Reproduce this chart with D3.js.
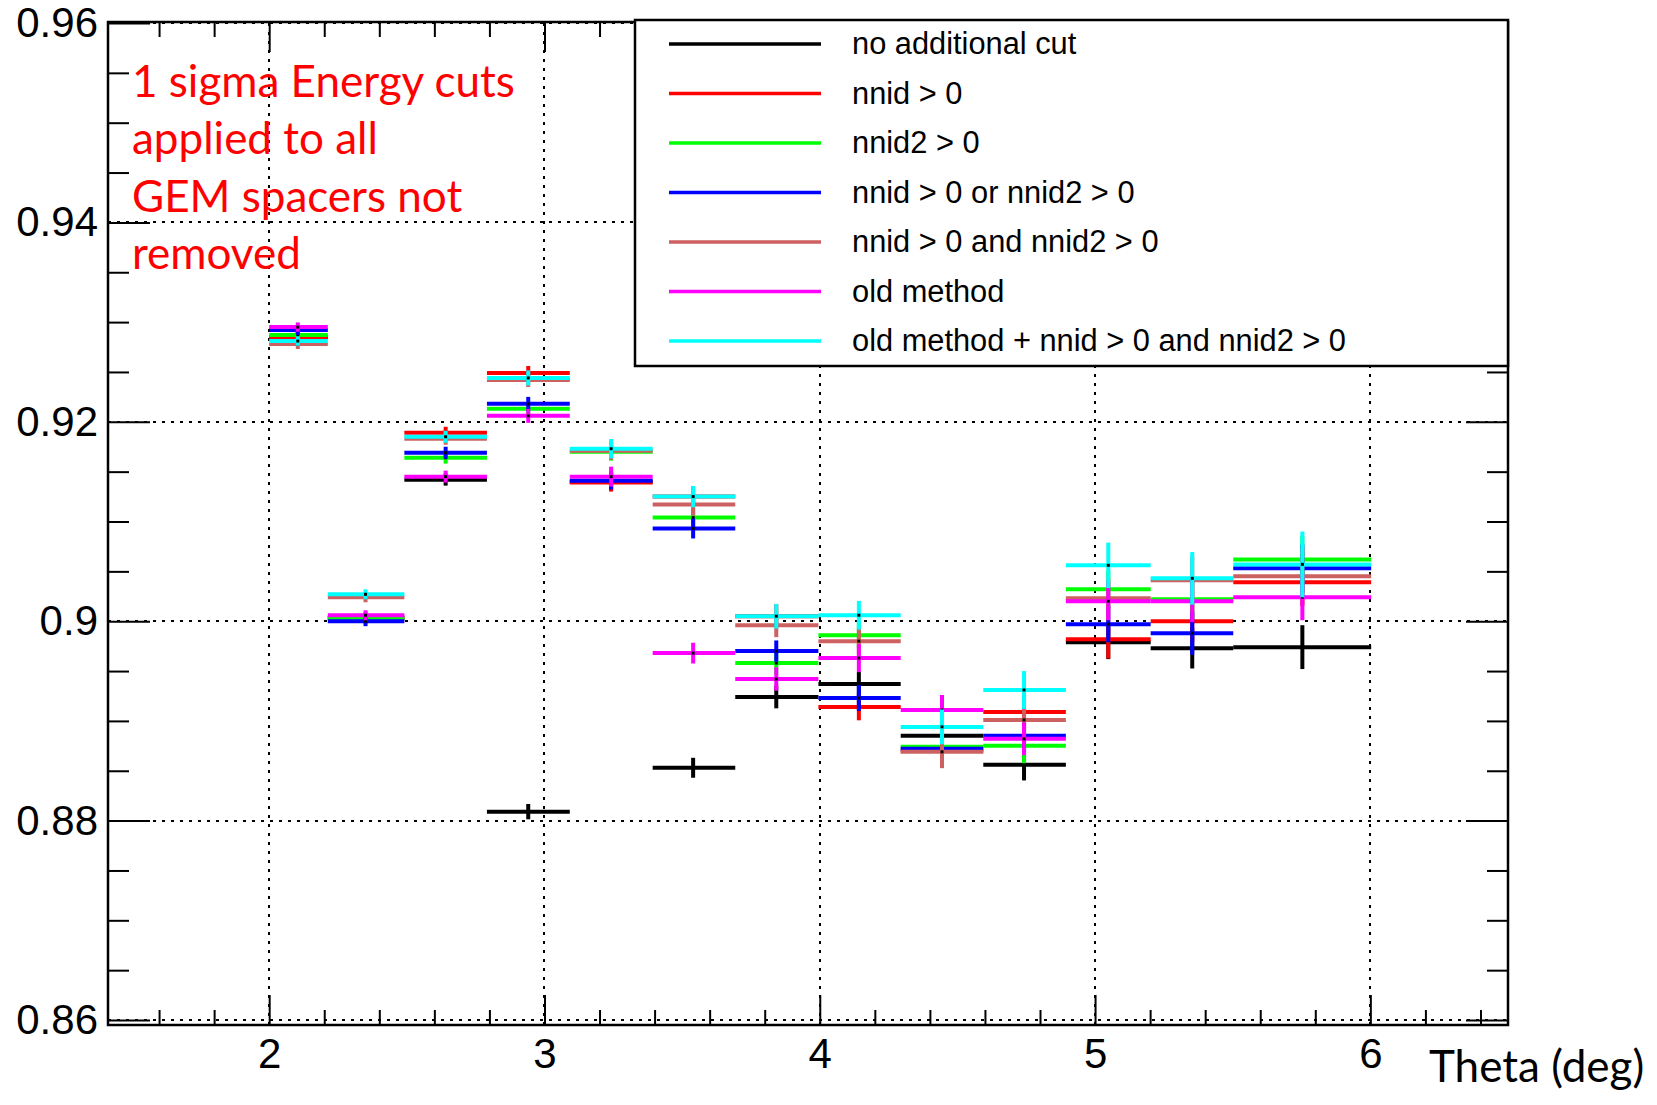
<!DOCTYPE html>
<html>
  <head>
    <meta charset="utf-8">
    <script type="text/javascript" src="https://cdn.jsdelivr.net/npm/d3@7"></script>
    <style type="text/css">
      body {
        margin: 0;
        background: #ffffff;
      }
    </style>
  </head>
  <body>
    <script type="text/javascript">

      // theta bins (deg): point position and bin edges
      var binCenter = [2.104, 2.35, 2.641, 2.941, 3.242, 3.54, 3.842, 4.142, 4.444, 4.742, 5.048, 5.353, 5.753];
      var binLow = [2.0, 2.213, 2.491, 2.791, 3.092, 3.393, 3.693, 3.995, 4.294, 4.594, 4.894, 5.202, 5.502];
      var binHigh = [2.213, 2.491, 2.791, 3.092, 3.393, 3.693, 3.995, 4.294, 4.594, 4.894, 5.202, 5.502, 6.003];

      // efficiency per bin for every cut
      var effNoCut = [0.9285, 0.9003, 0.9142, 0.8809, 0.9140, 0.8853, 0.8924, 0.8937, 0.8885, 0.8856, 0.8979, 0.8973, 0.8974];
      var effNnid = [0.9285, 0.9004, 0.9189, 0.9249, 0.9139, 0.9125, 0.9005, 0.8914, 0.8870, 0.8909, 0.8982, 0.9000, 0.9039];
      var effNnid2 = [0.9287, 0.9003, 0.9164, 0.9213, 0.9170, 0.9104, 0.8958, 0.8986, 0.8874, 0.8875, 0.9032, 0.9022, 0.9062];
      var effOr = [0.9292, 0.9000, 0.9169, 0.9218, 0.9141, 0.9093, 0.8970, 0.8923, 0.8872, 0.8885, 0.8997, 0.8988, 0.9053];
      var effAnd = [0.9278, 0.9024, 0.9183, 0.9242, 0.9171, 0.9117, 0.8996, 0.8980, 0.8869, 0.8901, 0.9023, 0.9041, 0.9045];
      var effOld = [0.9295, 0.9006, 0.9145, 0.9206, 0.9145, 0.8968, 0.8942, 0.8963, 0.8911, 0.8882, 0.9020, 0.9020, 0.9024];
      var effOldAnd = [0.9281, 0.9027, 0.9185, 0.9244, 0.9173, 0.9125, 0.9005, 0.9006, 0.8894, 0.8931, 0.9056, 0.9043, 0.9057];

      // statistical errors on the efficiency
      var errNoCut = [0.0005, 0.0005, 0.0006, 0.00077, 0.0009, 0.001, 0.00114, 0.0012, 0.0014, 0.00157, 0.0017, 0.00204, 0.0022];
      var errNnid = [0.0005, 0.0005, 0.0006, 0.0007, 0.0009, 0.001, 0.0012, 0.00134, 0.0015, 0.0016, 0.00194, 0.0021, 0.0024];
      var errNnid2 = [0.00047, 0.0005, 0.0006, 0.0007, 0.0009, 0.001, 0.0011, 0.0013, 0.0015, 0.00174, 0.0019, 0.0021, 0.0024];
      var errOr = [0.00047, 0.0005, 0.0006, 0.0007, 0.0009, 0.001, 0.00107, 0.0013, 0.0015, 0.0016, 0.0018, 0.00217, 0.0024];
      var errAnd = [0.0005, 0.0005, 0.0006, 0.0007, 0.0009, 0.0011, 0.0012, 0.0014, 0.00164, 0.0017, 0.0021, 0.0024, 0.0028];
      var errOld = [0.00047, 0.0005, 0.0006, 0.0007, 0.001, 0.00104, 0.00117, 0.0014, 0.0015, 0.00164, 0.0019, 0.0021, 0.0023];
      var errOldAnd = [0.00047, 0.0005, 0.0006, 0.00075, 0.00097, 0.00107, 0.00124, 0.00144, 0.00174, 0.0019, 0.00228, 0.00264, 0.0033];

      var seriesNames = ["no additional cut", "nnid > 0", "nnid2 > 0", "nnid > 0 or nnid2 > 0",
                         "nnid > 0 and nnid2 > 0", "old method", "old method + nnid > 0 and nnid2 > 0"];
      var seriesColors = ["#000000", "#ff0000", "#00ff00", "#0000ff", "#cd6060", "#ff00ff", "#00ffff"];
      var seriesValues = [effNoCut, effNnid, effNnid2, effOr, effAnd, effOld, effOldAnd];
      var seriesErrors = [errNoCut, errNnid, errNnid2, errOr, errAnd, errOld, errOldAnd];

      // axis ticks
      var xTickValues = [2, 3, 4, 5, 6];
      var xMinorValues = [1.6, 1.8, 2.2, 2.4, 2.6, 2.8, 3.2, 3.4, 3.6, 3.8, 4.2, 4.4, 4.6, 4.8,
                          5.2, 5.4, 5.6, 5.8, 6.2, 6.4];
      var yTickValues = [0.86, 0.88, 0.90, 0.92, 0.94, 0.96];
      var yTickLabels = ["0.86", "0.88", "0.9", "0.92", "0.94", "0.96"];
      var yMinorValues = [0.865, 0.87, 0.875, 0.885, 0.89, 0.895, 0.905, 0.91, 0.915,
                          0.925, 0.93, 0.935, 0.945, 0.95, 0.955];

      var noteLines = ["1 sigma Energy cuts", "applied to all", "GEM spacers not", "removed"];
      var xTitle = "Theta (deg)";

      var width = 1657;
      var height = 1105;

      // frame of the plot
      var frame = {left: 108, right: 1508, top: 22, bottom: 1025};

      var svg = d3.select("body")
                  .append("svg")
                  .attr("width", width)
                  .attr("height", height);

      svg.append("rect")
         .attr("width", width)
         .attr("height", height)
         .attr("fill", "#ffffff");

      var xScale = d3.scaleLinear()
                     .domain([1.4145, 6.5])
                     .range([frame.left, frame.right]);
      var yScale = d3.scaleLinear()
                     .domain([0.8595, 0.9601])
                     .range([frame.bottom, frame.top]);

      // dotted grid at the major ticks
      var grid = svg.append("g")
                    .attr("stroke", "#000")
                    .attr("stroke-width", 2)
                    .attr("stroke-dasharray", "3,6")
                    .attr("shape-rendering", "crispEdges");
      grid.selectAll(".gx")
          .data(xTickValues)
          .enter()
          .append("line")
          .attr("x1", function(d){ return Math.round(xScale(d)); })
          .attr("x2", function(d){ return Math.round(xScale(d)); })
          .attr("y1", frame.bottom)
          .attr("y2", frame.top);
      grid.selectAll(".gy")
          .data(yTickValues)
          .enter()
          .append("line")
          .attr("x1", frame.left)
          .attr("x2", frame.right)
          .attr("y1", function(d){ return Math.round(yScale(d)); })
          .attr("y2", function(d){ return Math.round(yScale(d)); });

      // one group per cut, drawn in the legend order
      var series = svg.selectAll(".series")
                      .data(seriesValues)
                      .enter()
                      .append("g")
                      .attr("class", "series")
                      .attr("stroke", function(d, i){ return seriesColors[i]; })
                      .attr("stroke-width", 4);

      series.each(function(vals, s){
        var g = d3.select(this);
        var errs = seriesErrors[s];
        // horizontal bar over the bin width
        g.selectAll(".hbar")
         .data(vals)
         .enter()
         .append("line")
         .attr("x1", function(d, i){ return xScale(binLow[i]); })
         .attr("x2", function(d, i){ return xScale(binHigh[i]); })
         .attr("y1", function(d){ return yScale(d); })
         .attr("y2", function(d){ return yScale(d); });
        // vertical error bar
        g.selectAll(".vbar")
         .data(vals)
         .enter()
         .append("line")
         .attr("x1", function(d, i){ return xScale(binCenter[i]); })
         .attr("x2", function(d, i){ return xScale(binCenter[i]); })
         .attr("y1", function(d, i){ return yScale(d - errs[i]); })
         .attr("y2", function(d, i){ return yScale(d + errs[i]); });
        // small black marker
        g.selectAll(".mark")
         .data(vals)
         .enter()
         .append("rect")
         .attr("x", function(d, i){ return xScale(binCenter[i]) - 1.5; })
         .attr("y", function(d){ return yScale(d) - 1.5; })
         .attr("width", 3)
         .attr("height", 3)
         .attr("stroke", "none")
         .attr("fill", "#000");
      });

      // ticks on all four sides, pointing inward
      function styleAxis(g){
        g.select(".domain").remove();
        g.selectAll(".tick line")
         .attr("stroke", "#000")
         .attr("stroke-width", 2);
        g.selectAll("text")
         .attr("font-family", "'Liberation Sans', Arial, sans-serif")
         .attr("font-size", 42)
         .attr("fill", "#000");
      }

      svg.append("g")
         .attr("transform", "translate(" + frame.left + ",0)")
         .call(d3.axisLeft(yScale)
                 .tickValues(yTickValues)
                 .tickSize(-42)
                 .tickPadding(10)
                 .tickFormat(function(d, i){ return yTickLabels[i]; }))
         .call(styleAxis);
      svg.append("g")
         .attr("transform", "translate(" + frame.left + ",0)")
         .call(d3.axisLeft(yScale).tickValues(yMinorValues).tickSize(-21).tickFormat(""))
         .call(styleAxis);
      svg.append("g")
         .attr("transform", "translate(" + frame.right + ",0)")
         .call(d3.axisRight(yScale).tickValues(yTickValues).tickSize(-42).tickFormat(""))
         .call(styleAxis);
      svg.append("g")
         .attr("transform", "translate(" + frame.right + ",0)")
         .call(d3.axisRight(yScale).tickValues(yMinorValues).tickSize(-21).tickFormat(""))
         .call(styleAxis);

      svg.append("g")
         .attr("transform", "translate(0," + frame.bottom + ")")
         .call(d3.axisBottom(xScale)
                 .tickValues(xTickValues)
                 .tickSize(-30)
                 .tickPadding(13)
                 .tickFormat(d3.format("d")))
         .call(styleAxis);
      svg.append("g")
         .attr("transform", "translate(0," + frame.bottom + ")")
         .call(d3.axisBottom(xScale).tickValues(xMinorValues).tickSize(-15).tickFormat(""))
         .call(styleAxis);
      svg.append("g")
         .attr("transform", "translate(0," + frame.top + ")")
         .call(d3.axisTop(xScale).tickValues(xTickValues).tickSize(-30).tickFormat(""))
         .call(styleAxis);
      svg.append("g")
         .attr("transform", "translate(0," + frame.top + ")")
         .call(d3.axisTop(xScale).tickValues(xMinorValues).tickSize(-15).tickFormat(""))
         .call(styleAxis);

      // frame
      svg.append("rect")
         .attr("x", frame.left)
         .attr("y", frame.top)
         .attr("width", frame.right - frame.left)
         .attr("height", frame.bottom - frame.top)
         .attr("fill", "none")
         .attr("stroke", "#000")
         .attr("stroke-width", 2.5);

      // legend box
      var legend = svg.append("g");
      legend.append("rect")
            .attr("x", 635)
            .attr("y", 20)
            .attr("width", 873)
            .attr("height", 346)
            .attr("fill", "#fff")
            .attr("stroke", "#000")
            .attr("stroke-width", 2.5);

      var rows = legend.selectAll(".row")
                       .data(seriesNames)
                       .enter()
                       .append("g")
                       .attr("transform", function(d, i){
                          return "translate(0," + (44 + i * 49.5) + ")";
                       });
      rows.append("line")
          .attr("x1", 669)
          .attr("x2", 821)
          .attr("stroke", function(d, i){ return seriesColors[i]; })
          .attr("stroke-width", 3.5);
      rows.append("text")
          .attr("x", 852)
          .attr("y", 10)
          .attr("font-family", "'Liberation Sans', Arial, sans-serif")
          .attr("font-size", 30.8)
          .attr("fill", "#000")
          .text(function(d){ return d; });

      // red note in the top left corner
      svg.append("g")
         .selectAll("text")
         .data(noteLines)
         .enter()
         .append("text")
         .attr("x", 132)
         .attr("y", function(d, i){ return 97 + i * 57.3; })
         .attr("font-family", "Lato, 'Open Sans', sans-serif")
         .attr("font-size", 44)
         .attr("fill", "#ff0000")
         .text(function(d){ return d; });

      // x axis title
      svg.append("text")
         .attr("x", 1429)
         .attr("y", 1082)
         .attr("font-family", "Lato, 'Open Sans', sans-serif")
         .attr("font-size", 44)
         .attr("fill", "#000")
         .text(xTitle);
    </script>
  </body>
</html>
